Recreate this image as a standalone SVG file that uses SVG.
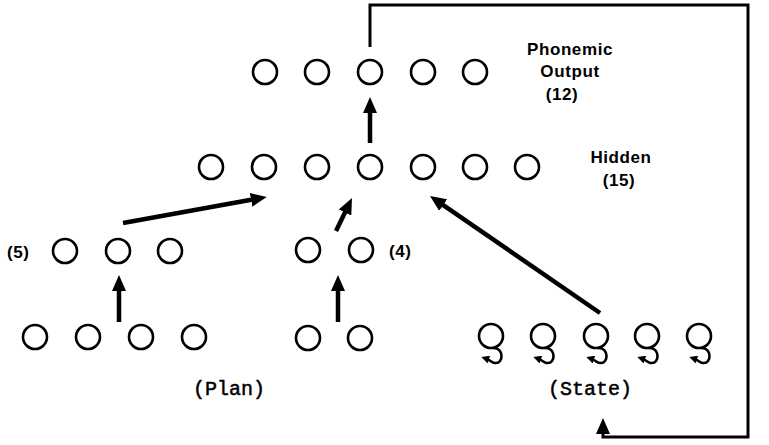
<svg xmlns="http://www.w3.org/2000/svg" width="769" height="445" viewBox="0 0 769 445">
<style>
  .u { fill: none; stroke: #000; stroke-width: 2.6; }
  .lbl { font-family: "Liberation Sans", Arial, sans-serif; font-weight: bold; font-size: 17px; letter-spacing: 0.6px; fill: #000; }
  .mono { font-family: "Liberation Mono", "Courier New", monospace; font-size: 20px; fill: #000; stroke: #000; stroke-width: 0.5; }
  .arr { fill: none; stroke: #000; stroke-width: 4.5; marker-end: url(#head); }
  .fb { fill: none; stroke: #000; stroke-width: 3; }
  .loop { fill: none; stroke: #000; stroke-width: 2.6; marker-end: url(#small); }
</style>
<defs>
  <marker id="head" markerUnits="userSpaceOnUse" markerWidth="16" markerHeight="14" viewBox="0 0 16 14" refX="3" refY="7" orient="auto">
    <path d="M0,0 L16,7 L0,14 Z" fill="#000"/>
  </marker>
  <marker id="small" markerUnits="userSpaceOnUse" markerWidth="8" markerHeight="8" viewBox="0 0 8 8" refX="2" refY="4" orient="auto">
    <path d="M0,0 L8,4 L0,8 Z" fill="#000"/>
  </marker>
</defs>
<rect width="769" height="445" fill="#fff"/>

<g id="output">
  <circle class="u" cx="265" cy="72" r="12"/>
  <circle class="u" cx="317" cy="72" r="12"/>
  <circle class="u" cx="370" cy="72" r="12"/>
  <circle class="u" cx="423" cy="72" r="12"/>
  <circle class="u" cx="475" cy="72" r="12"/>
  <text class="lbl" x="570" y="55" text-anchor="middle">Phonemic</text>
  <text class="lbl" x="570" y="77" text-anchor="middle">Output</text>
  <text class="lbl" x="562" y="100" text-anchor="middle">(12)</text>
</g>

<g id="hidden">
  <circle class="u" cx="211" cy="167" r="12"/>
  <circle class="u" cx="264" cy="167" r="12"/>
  <circle class="u" cx="317" cy="167" r="12"/>
  <circle class="u" cx="370" cy="167" r="12"/>
  <circle class="u" cx="423" cy="167" r="12"/>
  <circle class="u" cx="475" cy="167" r="12"/>
  <circle class="u" cx="527" cy="167" r="12"/>
  <text class="lbl" x="621" y="163" text-anchor="middle">Hidden</text>
  <text class="lbl" x="619" y="186" text-anchor="middle">(15)</text>
</g>

<g id="plan-hidden">
  <text class="lbl" x="7" y="258">(5)</text>
  <circle class="u" cx="65" cy="251" r="12"/>
  <circle class="u" cx="118" cy="251" r="12"/>
  <circle class="u" cx="170" cy="251" r="12"/>
</g>

<g id="state-hidden">
  <circle class="u" cx="308" cy="250" r="12"/>
  <circle class="u" cx="361" cy="250" r="12"/>
  <text class="lbl" x="389" y="257">(4)</text>
</g>

<g id="plan">
  <circle class="u" cx="35" cy="337" r="12"/>
  <circle class="u" cx="88" cy="337" r="12"/>
  <circle class="u" cx="141" cy="337" r="12"/>
  <circle class="u" cx="194" cy="337" r="12"/>
  <circle class="u" cx="308" cy="338" r="12"/>
  <circle class="u" cx="360" cy="338" r="12"/>
  <text class="mono" x="193" y="395">(Plan)</text>
</g>

<g id="state">
  <circle class="u" cx="491" cy="336" r="12"/>
  <circle class="u" cx="543" cy="336" r="12"/>
  <circle class="u" cx="596" cy="336" r="12"/>
  <circle class="u" cx="647" cy="336" r="12"/>
  <circle class="u" cx="699" cy="336" r="12"/>
  <path class="loop" d="M493,348 C504,347 504,364 495,363 C492,363 490,360 487,359"/>
  <path class="loop" d="M545,348 C556,347 556,364 547,363 C544,363 542,360 539,359"/>
  <path class="loop" d="M598,348 C609,347 609,364 600,363 C597,363 595,360 592,359"/>
  <path class="loop" d="M649,348 C660,347 660,364 651,363 C648,363 646,360 643,359"/>
  <path class="loop" d="M701,348 C712,347 712,364 703,363 C700,363 698,360 695,359"/>
  <text class="mono" x="548" y="395">(State)</text>
</g>

<g id="connectors">
  <line class="arr" x1="370" y1="143" x2="370" y2="110"/>
  <line class="arr" x1="119" y1="322" x2="119" y2="288"/>
  <line class="arr" x1="338" y1="322" x2="338" y2="288"/>
  <line class="arr" x1="123" y1="223" x2="254" y2="199.3"/>
  <line class="arr" x1="336" y1="231" x2="346.3" y2="209.8"/>
  <line class="arr" x1="600" y1="313" x2="440.7" y2="203.4"/>
  <path class="fb" d="M370,47 V5 H748 V437 H603 V431" marker-end="url(#head)"/>
</g>
</svg>
